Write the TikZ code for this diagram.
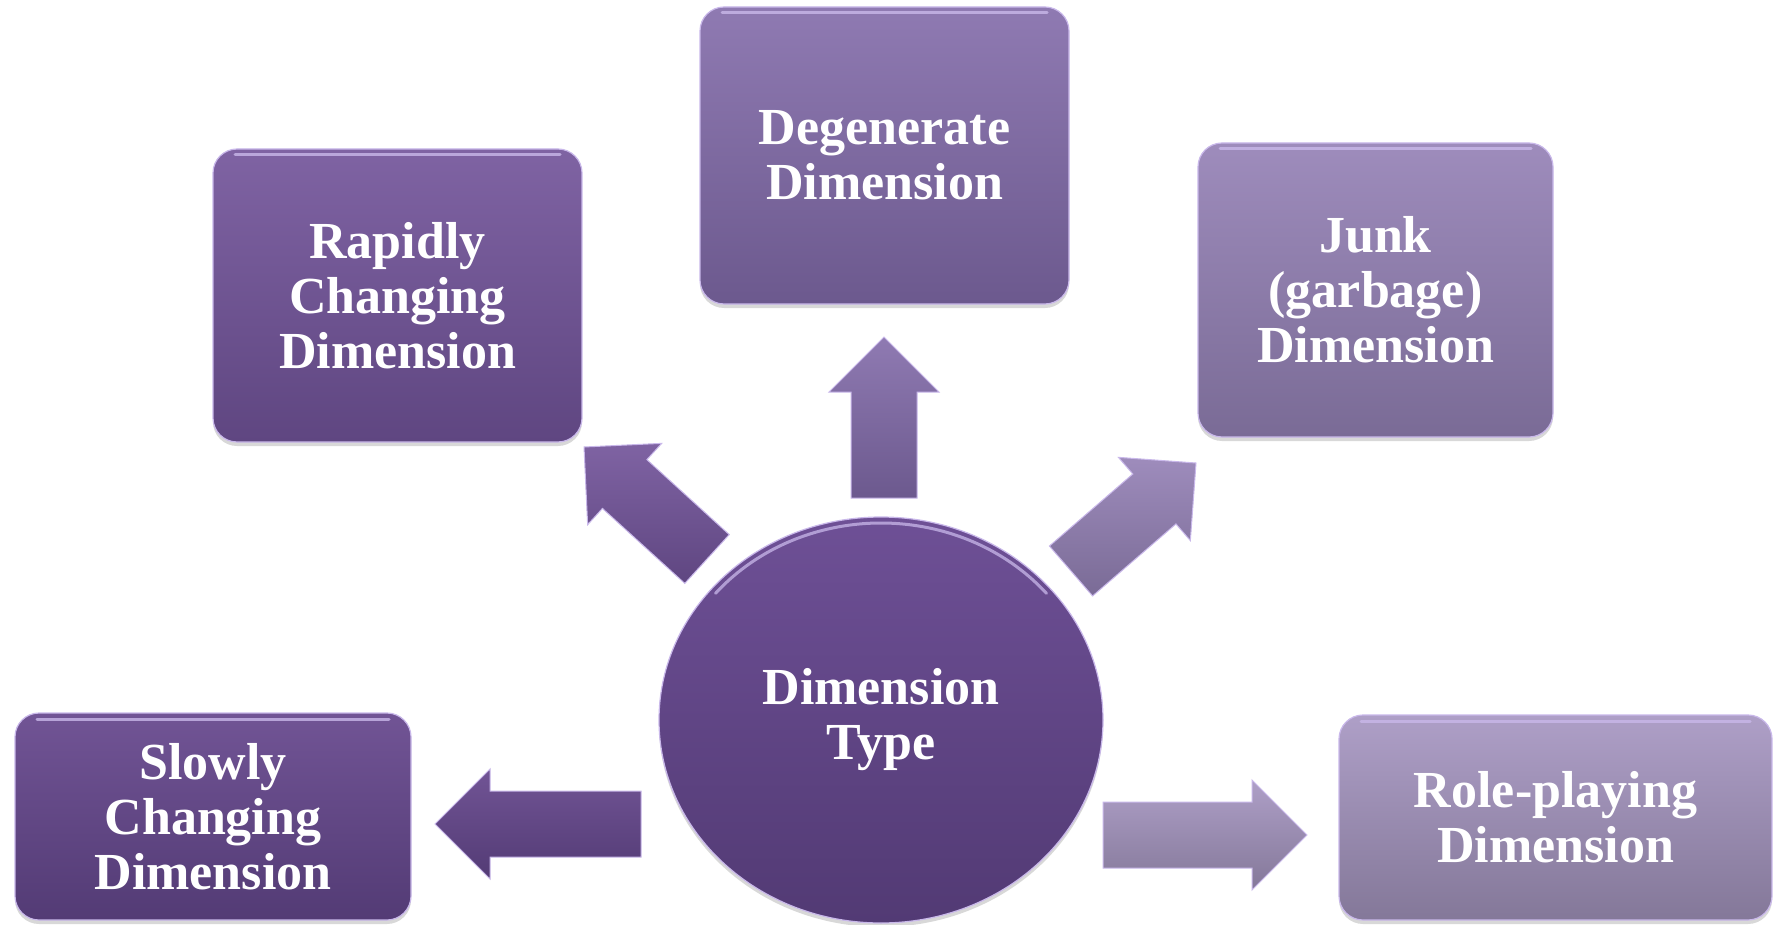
\documentclass[tikz,border=0pt]{standalone}
\usepackage{fontspec}
\setmainfont{Liberation Serif}
\usetikzlibrary{calc,shadows,shapes.geometric}

% box and arrow fills, light to dark
\definecolor{slowT}{HTML}{715495}\definecolor{slowB}{HTML}{533B75}
\definecolor{rapT}{HTML}{7F63A3}\definecolor{rapB}{HTML}{5F4681}
\definecolor{degT}{HTML}{8F7AB2}\definecolor{degB}{HTML}{6C598E}
\definecolor{junkT}{HTML}{9E8CBC}\definecolor{junkB}{HTML}{7A6B96}
\definecolor{roleT}{HTML}{AE9FC7}\definecolor{roleB}{HTML}{847899}
\definecolor{hubT}{HTML}{6E5096}\definecolor{hubB}{HTML}{523A74}
\definecolor{rim}{HTML}{C9B8EA}

% block arrow from tail #1 to tip #2, style #3
\newcommand{\blockarrow}[3]{%
  \coordinate (hb) at ($(#2)!55pt!(#1)$);
  \path[#3] ($(#1)!33pt!90:(#2)$) -- ($(hb)!33pt!90:(#2)$) -- ($(hb)!55pt!90:(#2)$)
    -- (#2) -- ($(hb)!55pt!-90:(#2)$) -- ($(hb)!33pt!-90:(#2)$)
    -- ($(#1)!33pt!-90:(#2)$) -- cycle;}

\begin{document}
\begin{tikzpicture}[x=1pt,y=-1pt,
  shade2/.style 2 args={top color=#1, bottom color=#2},
  gloss/.style={path picture={
      \draw[rim, line width=3pt, opacity=0.8, line cap=round]
        ([xshift=22pt,yshift=-6pt]path picture bounding box.north west) --
        ([xshift=-22pt,yshift=-6pt]path picture bounding box.north east);}},
  roundgloss/.style={path picture={
      \draw[rim, line width=3pt, opacity=0.75, line cap=round]
        (path picture bounding box.center) ++(-140:216 and 197)
        arc[start angle=-140, end angle=-40, x radius=216, y radius=197];}},
  card/.style={rectangle, rounded corners=24pt, draw=rim, line width=1.2pt,
    align=center, text=white, inner sep=0pt, gloss,
    font=\bfseries\fontsize{52}{55}\selectfont,
    drop shadow={shadow xshift=0pt, shadow yshift=-4pt, opacity=0.25, fill=black!60}},
  hub/.style={ellipse, draw=rim, line width=1.2pt, align=center, text=white,
    inner sep=0pt, roundgloss, font=\bfseries\fontsize{52}{55}\selectfont,
    drop shadow={shadow xshift=0pt, shadow yshift=-4pt, opacity=0.25, fill=black!60}},
  barrow/.style={draw=rim, line width=1pt, line join=miter}]

\fill[white] (0,0) rectangle (1776,925);
\useasboundingbox (0,0) rectangle (1776,925);

% topic boxes
\node[card, shade2={rapT}{rapB}, minimum width=369pt, minimum height=293pt]
  (rapid) at (397.5,295.5) {Rapidly\\Changing\\Dimension};
\node[card, shade2={degT}{degB}, minimum width=369pt, minimum height=297pt]
  (degen) at (884.5,155.5) {Degenerate\\Dimension};
\node[card, shade2={junkT}{junkB}, minimum width=355pt, minimum height=294pt]
  (junk) at (1375.5,290) {Junk\\(garbage)\\Dimension};
\node[card, shade2={slowT}{slowB}, minimum width=396pt, minimum height=207pt]
  (slow) at (213,816.5) {Slowly\\Changing\\Dimension};
\node[card, shade2={roleT}{roleB}, minimum width=433pt, minimum height=205pt]
  (role) at (1555.5,817.5) {Role-playing\\Dimension};

% centre
\node[hub, shade2={hubT}{hubB}, minimum width=444pt, minimum height=406pt]
  (type) at (881,720) {Dimension\\Type};

% arrow ends
\coordinate (ulT) at (707,559);  \coordinate (ulH) at (584,447);
\coordinate (upT) at (884,498);  \coordinate (upH) at (884,337);
\coordinate (urT) at (1071,571); \coordinate (urH) at (1196,463);
\coordinate (lfT) at (641,824);  \coordinate (lfH) at (435,824);
\coordinate (rtT) at (1103,835); \coordinate (rtH) at (1307,835);

\blockarrow{ulT}{ulH}{barrow, shade2={rapT}{rapB}}
\blockarrow{upT}{upH}{barrow, shade2={degT}{degB}}
\blockarrow{urT}{urH}{barrow, shade2={junkT}{junkB}}
\blockarrow{lfT}{lfH}{barrow, shade2={slowT}{slowB}}
\blockarrow{rtT}{rtH}{barrow, shade2={roleT}{roleB}}

\end{tikzpicture}
\end{document}
